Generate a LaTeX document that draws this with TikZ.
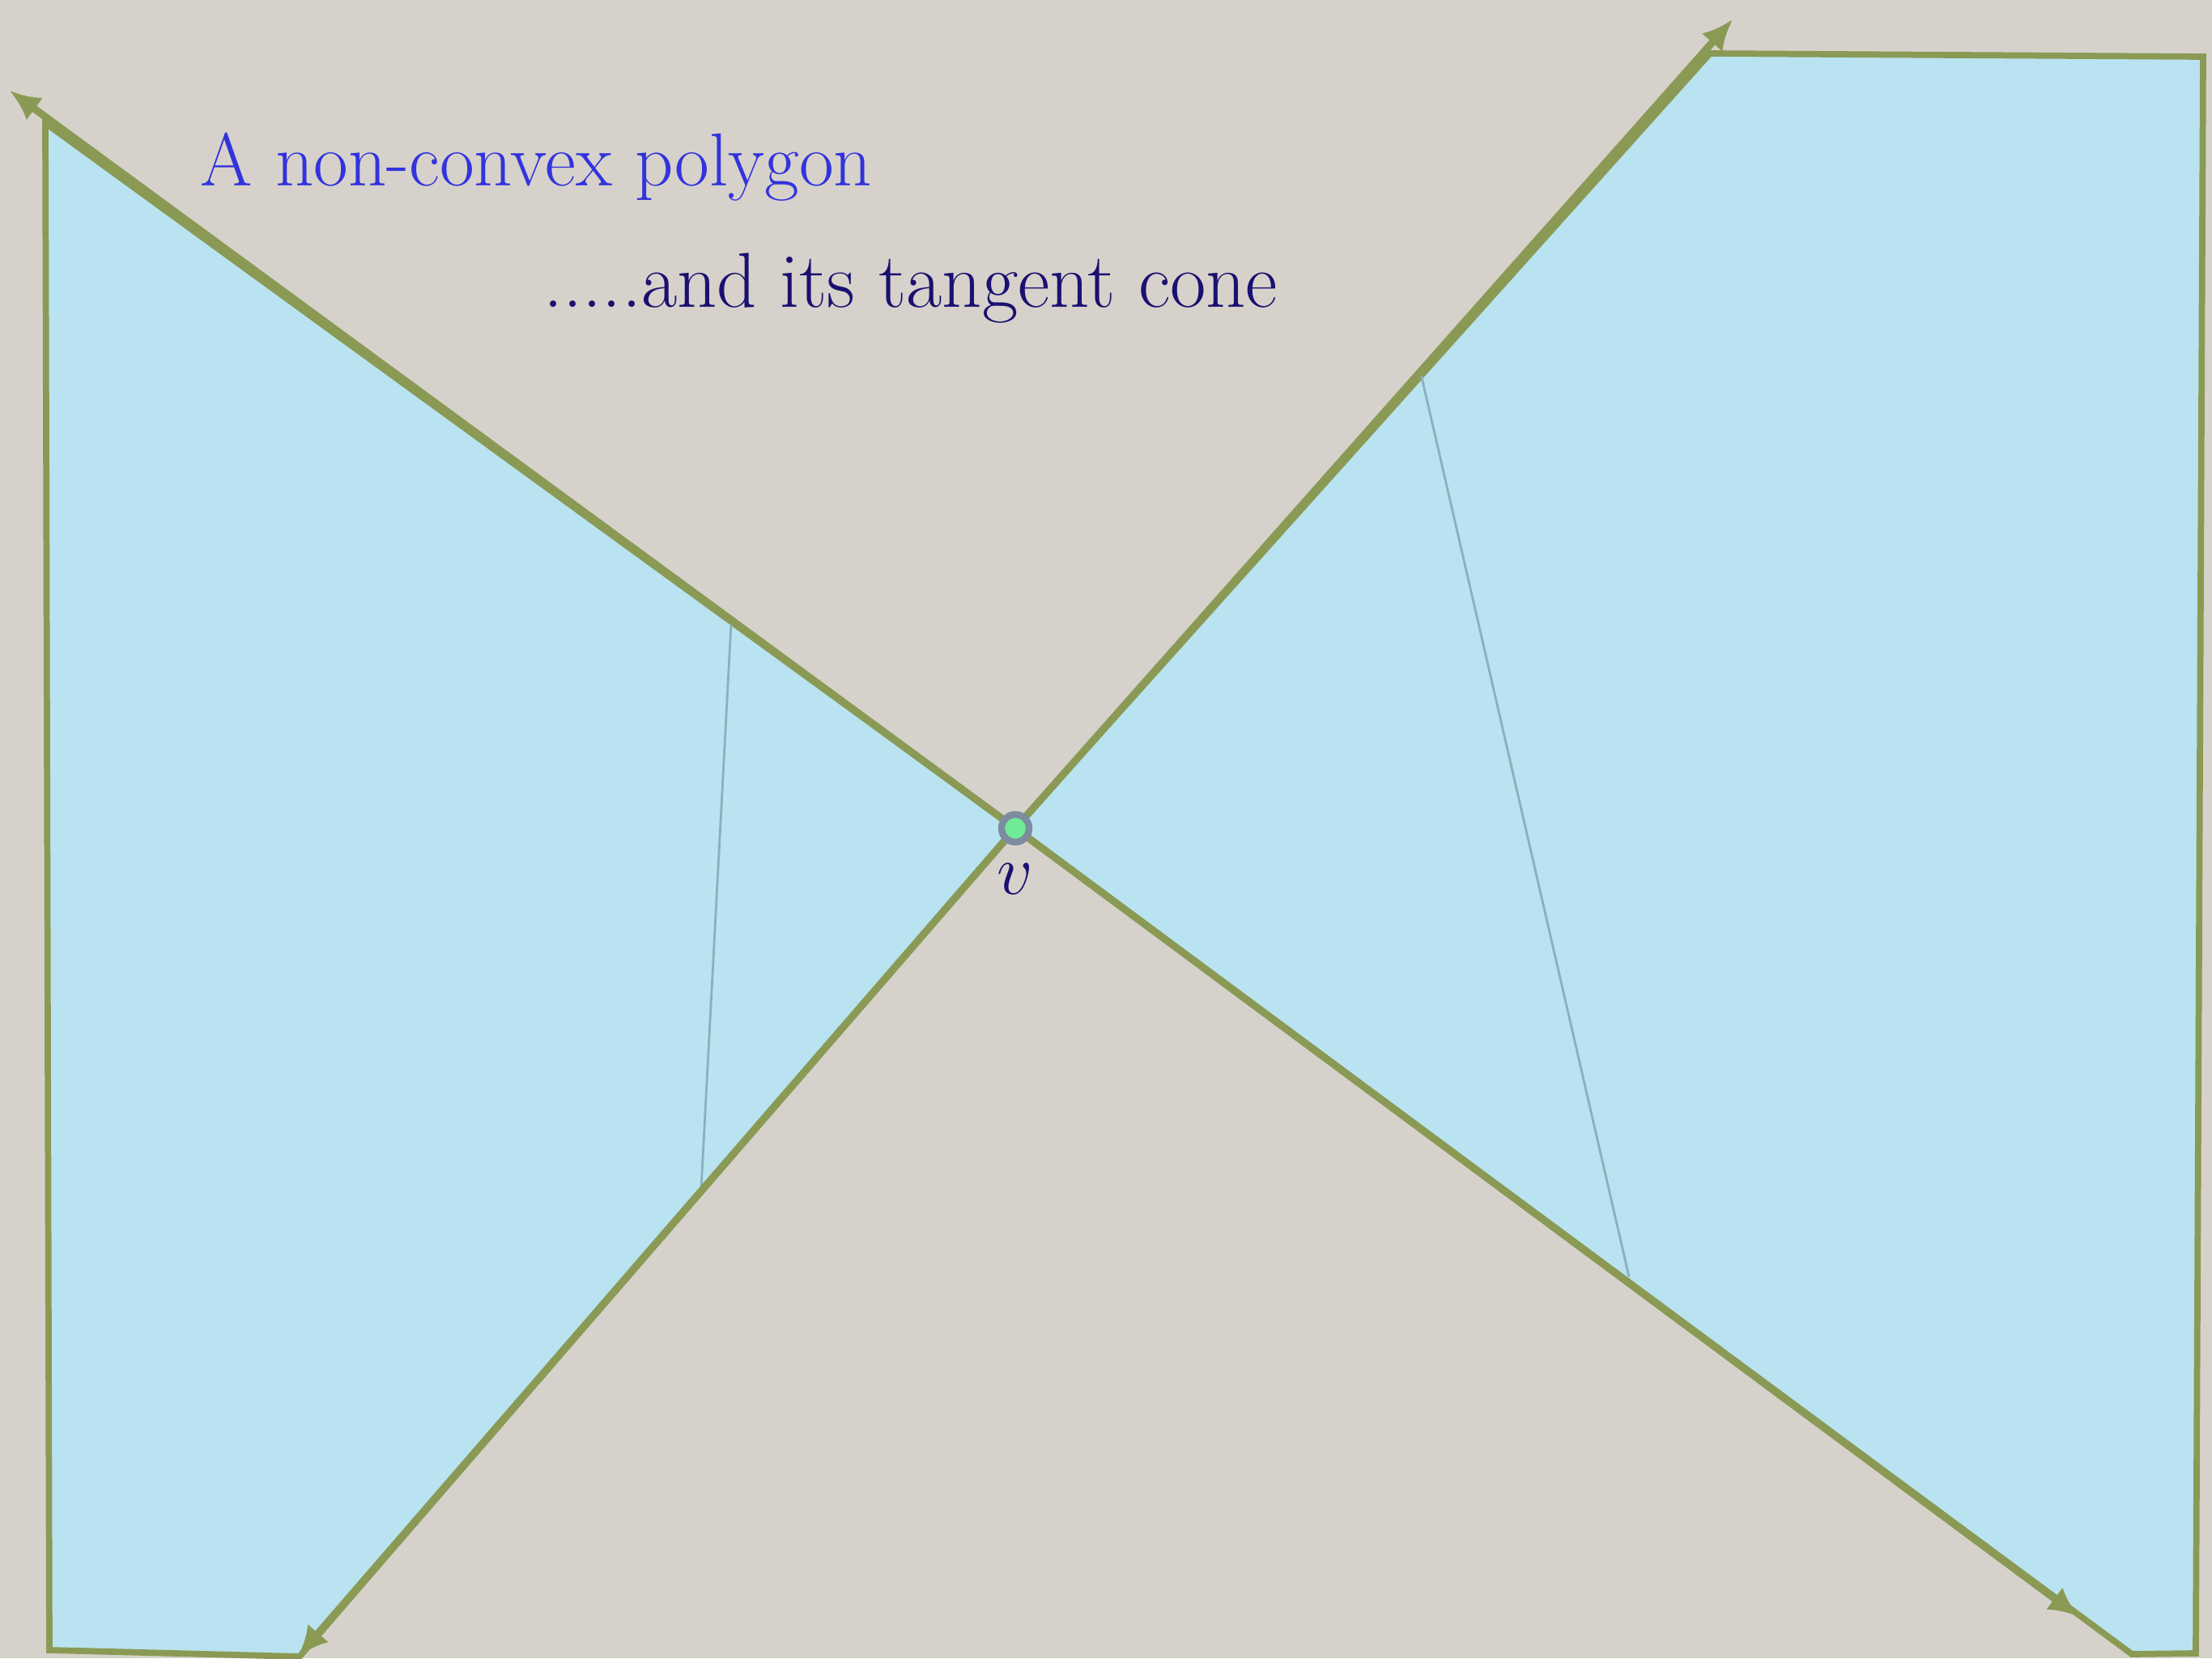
\documentclass[tikz,border=0pt]{standalone}
\usepackage{tikz}
\usetikzlibrary{arrows.meta}
\usepackage{xcolor}
\definecolor{paper}{RGB}{214,210,203}
\definecolor{polyfill}{RGB}{185,227,240}
\definecolor{edgecol}{RGB}{138,154,85}
\definecolor{titlecol}{RGB}{51,51,221}
\definecolor{subcol}{RGB}{26,16,112}
\definecolor{chordcol}{RGB}{140,175,190}
\definecolor{vfill}{RGB}{110,235,150}
\definecolor{vring}{RGB}{125,140,160}
\tikzset{>={Latex[length=0.38cm,width=0.34cm]}}
\tikzset{
  poly edge/.style={draw=edgecol,line width=2.2pt,line join=miter},
  ray/.style={->,edgecol,line width=2.6pt},
  chord/.style={chordcol,line width=0.8pt},
  caption/.style={inner sep=0,anchor=base west}
}

\begin{document}
\begin{tikzpicture}
  \fill[paper] (0,0) rectangle (27.32,20.48);
  \useasboundingbox (0,0) rectangle (27.32,20.48);
  % the vertex and the polygon corners
  \coordinate (v) at (12.54,10.25);
  \coordinate (L1) at (0.56,18.96);
  \coordinate (L2) at (0.61,0.10);
  \coordinate (L3) at (3.70,0.02);
  \coordinate (R1) at (21.12,19.82);
  \coordinate (R2) at (27.21,19.78);
  \coordinate (R3) at (27.12,0.06);
  \coordinate (R4) at (26.33,0.05);
  % ends of the cone rays
  \coordinate (TL) at (0.12,19.36);
  \coordinate (TR) at (21.40,20.24);
  \coordinate (BR) at (25.68,0.51);
  \coordinate (BL) at (3.68,0.02);
  % inner chords
  \coordinate (C1) at (9.03,12.78);
  \coordinate (C2) at (8.66,5.80);
  \coordinate (C3) at (17.55,15.86);
  \coordinate (C4) at (20.12,4.71);

  \filldraw[fill=polyfill,poly edge] (L1) -- (v) -- (R1) -- (R2) -- (R3)
              -- (R4) -- (v) -- (L3) -- (L2) -- cycle;
  \draw[chord] (C1) -- (C2);
  \draw[chord] (C3) -- (C4);
  \draw[ray] (v) -- (TL);
  \draw[ray] (v) -- (TR);
  \draw[ray] (v) -- (BR);
  \draw[ray] (v) -- (BL);
  \node[circle,fill=vfill,draw=vring,line width=2.4pt,inner sep=0,
        minimum size=0.34cm] (vtx) at (v) {};
  \node[subcol,font=\fontsize{26}{30}\selectfont] (vlabel) at (12.54,9.62) {$v$};
  \node[caption,titlecol,font=\fontsize{26.4}{32}\selectfont] (title)
       at (2.47,18.18) {A non-convex polygon};
  \node[caption,subcol,font=\fontsize{27.4}{32}\selectfont] (subtitle)
       at (6.71,16.68) {.....and its tangent cone};
\end{tikzpicture}
\end{document}
